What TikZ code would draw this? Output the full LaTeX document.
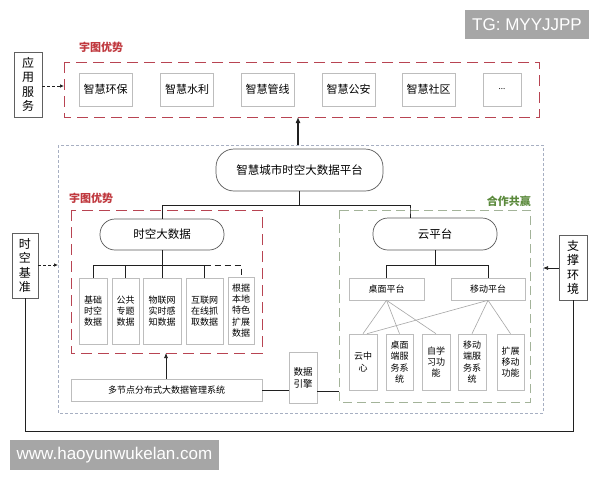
\documentclass[tikz,border=0pt]{standalone}
\usepackage{fontspec}
\setmainfont{Noto Sans CJK SC}
\newfontfamily\latinsans{Liberation Sans}
\usetikzlibrary{arrows.meta}
\definecolor{redd}{HTML}{B84452}
\definecolor{redlab}{HTML}{C0393F}
\definecolor{greenlab}{HTML}{5B8A3C}
\definecolor{greend}{HTML}{A3B399}
\definecolor{grayd}{HTML}{A7AFC2}
\definecolor{boxline}{HTML}{BDBDBD}
\definecolor{wm}{HTML}{A6A6A6}
\tikzset{
  box/.style={draw=boxline, fill=white, inner sep=0pt, align=center, line width=0.6pt},
  sbox/.style={box, font=\fontsize{9}{11.3}\selectfont},
  abox/.style={box, font=\fontsize{11}{13}\selectfont, minimum height=33pt},
  sidebox/.style={draw=gray!75!black, fill=white, inner sep=0pt, align=center, line width=0.7pt, font=\fontsize{12}{14.5}\selectfont},
  rbox/.style={draw=gray!70!black, fill=white, rounded corners=15pt, inner sep=0pt, line width=0.7pt, font=\fontsize{11.5}{13}\selectfont},
  reddash/.style={draw=redd, line width=1pt, dash pattern=on 11pt off 6pt},
  graydash/.style={draw=grayd, line width=0.7pt, dash pattern=on 3pt off 2pt},
  greendash/.style={draw=greend, line width=1pt, dash pattern=on 9pt off 5pt},
  conn/.style={draw=gray!25!black, line width=0.7pt},
  lconn/.style={draw=gray!70, line width=0.6pt},
  redlabel/.style={text=redlab, font=\bfseries\fontsize{11}{13}\selectfont, inner sep=0pt},
  greenlabel/.style={text=greenlab, font=\bfseries\fontsize{11}{13}\selectfont, inner sep=0pt},
  wmark/.style={fill=wm, text=white, inner sep=0pt, font=\latinsans\fontsize{17}{19}\selectfont},
}
\begin{document}
\begin{tikzpicture}[x=1pt,y=-1pt]
\useasboundingbox[fill=white] (0,0) rectangle (600,480);

% watermarks
\node[wmark, minimum width=124pt, minimum height=29pt] (tg) at (527,24.5) {TG: MYYJJPP};
\node[wmark, minimum width=209pt, minimum height=30pt] (www) at (114.5,455) {www.haoyunwukelan.com};

% top application band
\node[redlabel, anchor=west] (lab1) at (79,47) {宇图优势};
\draw[reddash] (64,62) rectangle (539,117);
\coordinate (redtopbot) at (298,117);
\node[abox, minimum width=53pt] (a1) at (105.5,89.5) {智慧环保};
\node[abox, minimum width=53pt] (a2) at (187,89.5) {智慧水利};
\node[abox, minimum width=53pt] (a3) at (267.5,89.5) {智慧管线};
\node[abox, minimum width=53pt] (a4) at (348.5,89.5) {智慧公安};
\node[abox, minimum width=53pt] (a5) at (428.5,89.5) {智慧社区};
\node[abox, minimum width=38pt, font=\fontsize{8}{10}\selectfont] (a6) at (502,89.5) {...};

\node[sidebox, minimum width=28pt, minimum height=65pt] (app) at (28,84.5) {应\\用\\服\\务};
\coordinate (appin) at (64,86);
\draw[conn, densely dashed, -{Latex[length=4pt,width=3.5pt]}] (app.east |- appin) -- (appin);

% outer gray dashed
\draw[graydash] (58,145) rectangle (543,413);
\coordinate (graytop) at (298,145);
\draw[conn, line width=1.1pt, -{Latex[length=6pt,width=5pt]}] (graytop) -- (redtopbot);

% platform
\node[rbox, minimum width=167pt, minimum height=42pt, rounded corners=18pt] (plat) at (299.5,170) {智慧城市时空大数据平台};

% left red block
\node[redlabel, anchor=west] (lab2) at (69,198) {宇图优势};
\draw[reddash] (71,210) rectangle (262,353);
\node[rbox, minimum width=124pt, minimum height=31pt] (sk) at (162,234.5) {时空大数据};

% right green block
\node[greenlabel, anchor=east] (lab3) at (531,201) {合作共赢};
\draw[greendash] (339,210) rectangle (530,402);
\node[rbox, minimum width=124pt, minimum height=32pt] (yun) at (435,234) {云平台};

% platform connectors
\coordinate (pj) at (299.5,205);
\draw[conn] (plat.south) -- (pj);
\draw[conn] (pj) -| (sk.north);
\draw[conn] (pj) -| (410,210) -- (410,218);

% data boxes
\node[sbox, minimum width=28pt, minimum height=66pt] (d1) at (93,311) {基础\\时空\\数据};
\node[sbox, minimum width=27pt, minimum height=66pt] (d2) at (125.5,311) {公共\\专题\\数据};
\node[sbox, minimum width=38pt, minimum height=66pt] (d3) at (162,311) {物联网\\实时感\\知数据};
\node[sbox, minimum width=37pt, minimum height=66pt] (d4) at (204.5,311) {互联网\\在线抓\\取数据};
\node[sbox, minimum width=26pt, minimum height=67pt] (d5) at (241,310.5) {根据\\本地\\特色\\扩展\\数据};

\coordinate (sj) at (162,265);
\draw[conn] (sk.south) -- (sj);
\draw[conn] (sj) -| (d1.north);
\draw[conn] (sj) -| (d4.north);
\draw[conn] (125.5,265) -- (d2.north);
\draw[conn] (sj) -- (d3.north);
\draw[conn, dash pattern=on 6pt off 4pt] (d4.north |- sj) -| (d5.north);

% management system
\node[sbox, minimum width=191pt, minimum height=22pt] (mgmt) at (166.5,390) {多节点分布式大数据管理系统};
\coordinate (redbot) at (166,353);
\draw[conn, -{Latex[length=5pt,width=4pt]}] (mgmt.north -| redbot) -- (redbot);
\node[sbox, minimum width=28pt, minimum height=51pt, font=\fontsize{9.5}{12}\selectfont] (eng) at (303,377.5) {数据\\引擎};
\draw[conn] (mgmt.east) -- (mgmt.east -| eng.west);
\coordinate (greenleft) at (339,391);
\draw[conn] (eng.east |- greenleft) -- (greenleft);

% cloud platform tree
\node[sbox, minimum width=75pt, minimum height=22pt] (zm) at (386.5,289) {桌面平台};
\node[sbox, minimum width=74pt, minimum height=22pt] (yd) at (488,289) {移动平台};
\coordinate (yj) at (435,265);
\draw[conn] (yun.south) -- (yj);
\draw[conn] (yj) -| (zm.north);
\draw[conn] (yj) -| (yd.north);

\node[sbox, minimum width=28pt, minimum height=56pt] (b1) at (363,362) {云中\\心};
\node[sbox, minimum width=27pt, minimum height=56pt] (b2) at (399.5,362) {桌面\\端服\\务系\\统};
\node[sbox, minimum width=28pt, minimum height=56pt] (b3) at (436,362) {自学\\习功\\能};
\node[sbox, minimum width=28pt, minimum height=56pt] (b4) at (472,362) {移动\\端服\\务系\\统};
\node[sbox, minimum width=27pt, minimum height=56pt] (b5) at (510.5,362) {扩展\\移动\\功能};

\draw[lconn] (zm.south) -- (b1.north);
\draw[lconn] (zm.south) -- (b2.north);
\draw[lconn] (zm.south) -- (b3.north);
\draw[lconn] (yd.south) -- ([xshift=4pt]b1.north);
\draw[lconn] (yd.south) -- (b4.north);
\draw[lconn] (yd.south) -- (b5.north);

% side boxes
\node[sidebox, minimum width=26pt, minimum height=65pt] (sj0) at (25,265.5) {时\\空\\基\\准};
\node[sidebox, minimum width=28pt, minimum height=65pt] (zc) at (573,267.5) {支\\撑\\环\\境};
\coordinate (grayl) at (58,265);
\coordinate (grayr) at (543,268);
\draw[conn, densely dashed, -{Latex[length=4pt,width=3.5pt]}] (sj0.east |- grayl) -- (grayl);
\draw[conn, -{Latex[length=5pt,width=4pt]}] (zc.west |- grayr) -- (grayr);
\coordinate (loopl) at (25,431);
\coordinate (loopr) at (573,431);
\draw[conn, line width=0.9pt] (sj0.south) -- (loopl) -- (loopr) -- (zc.south);
\end{tikzpicture}
\end{document}
